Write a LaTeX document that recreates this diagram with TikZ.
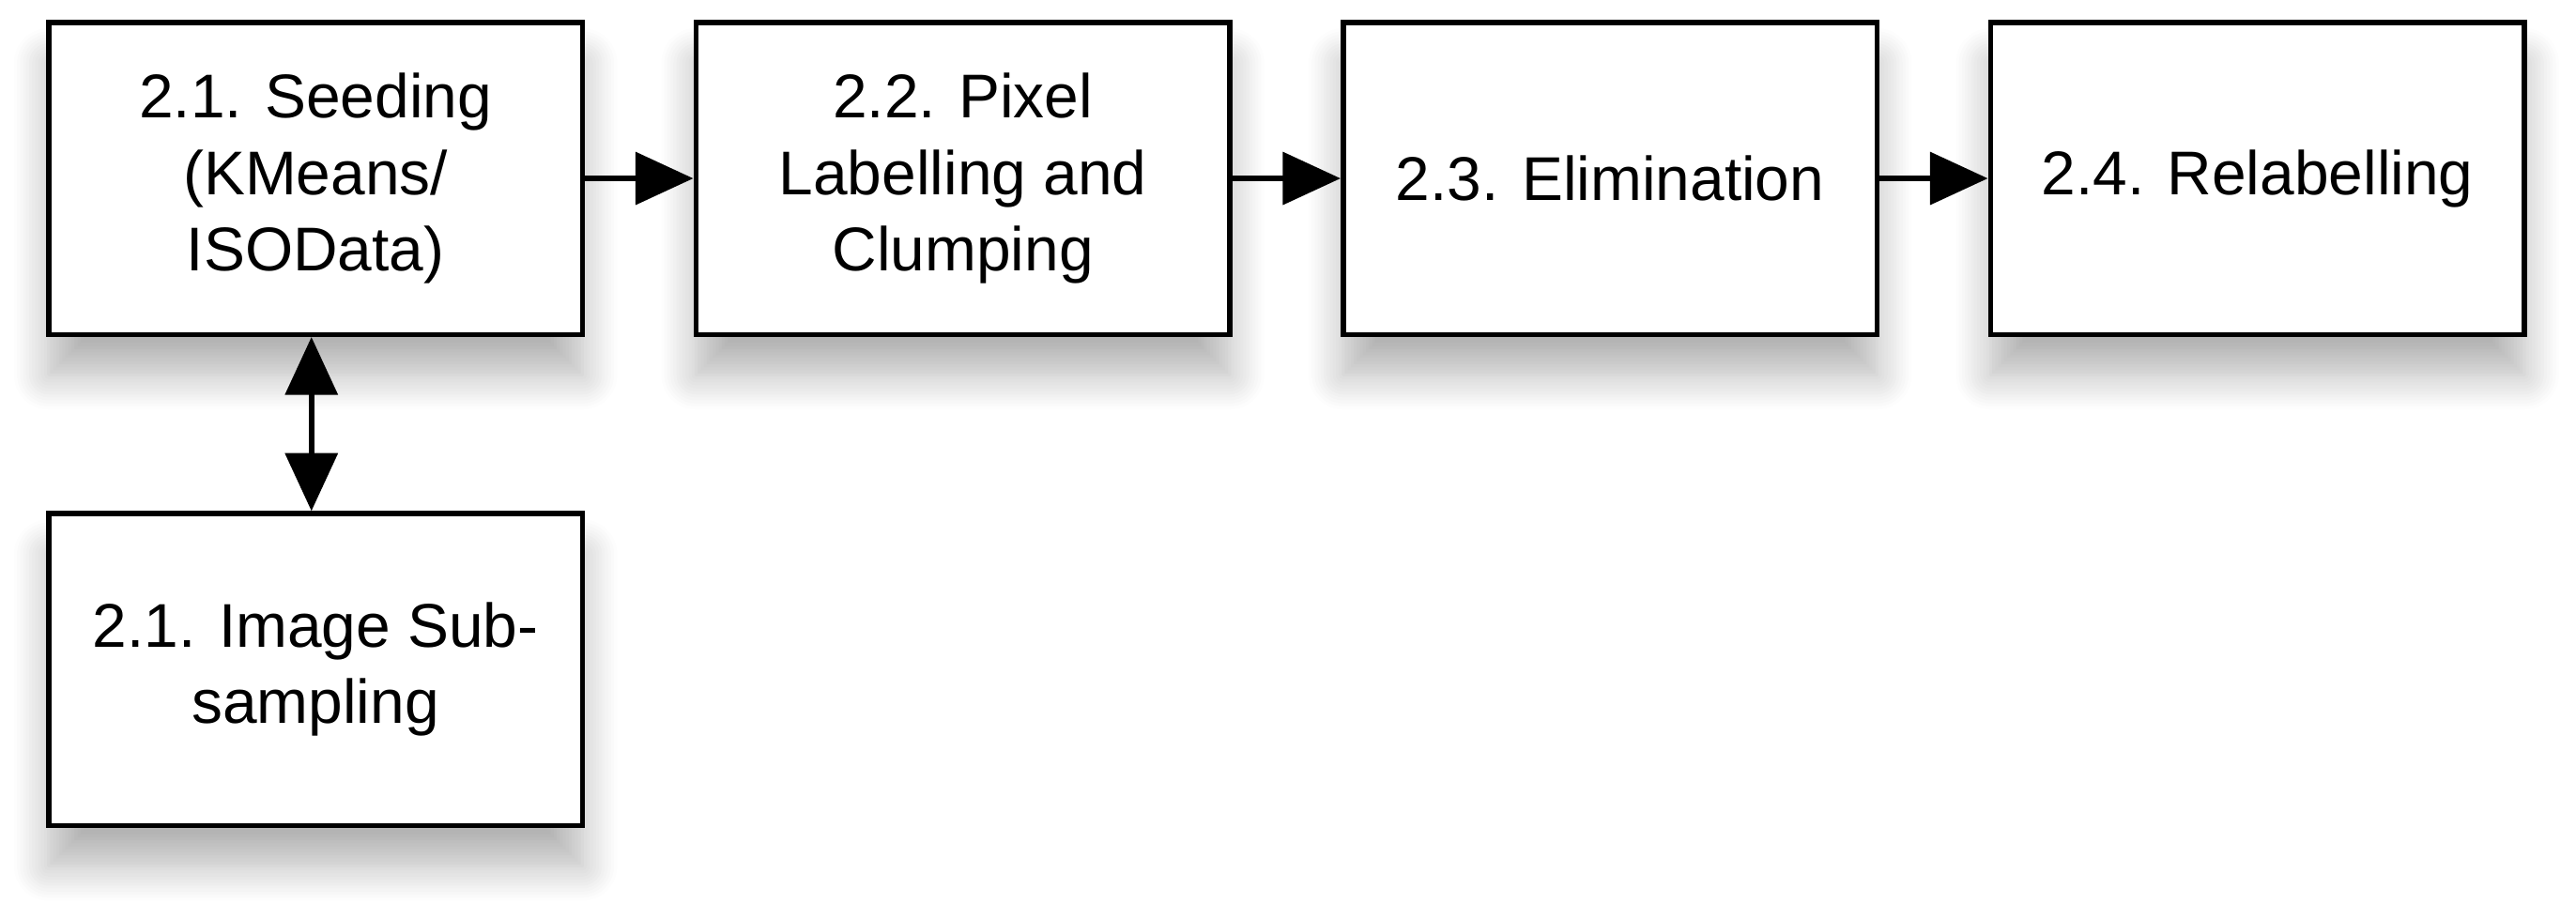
\documentclass[tikz,border=0pt]{standalone}
\usepackage{fontspec}
\setmainfont{Liberation Sans}
\usetikzlibrary{arrows.meta,shadows.blur}
\begin{document}
\begin{tikzpicture}[x=0.01cm,y=-0.01cm,
  box/.style={draw,line width=0.9pt,fill=white,minimum width=325*0.01cm,minimum height=190*0.01cm,inner sep=0pt,align=center,font=\fontsize{10.7}{13.2}\selectfont,anchor=north west,blur shadow={shadow xshift=0pt,shadow yshift=-7pt,shadow blur radius=6pt,shadow blur steps=12,shadow opacity=30}},
  arr/.style={line width=0.9pt,-{Triangle[length=10pt,width=9pt]}}]
\useasboundingbox (0,0) rectangle (1568,550);
\node[box] (a) at (28,12) {2.1. Seeding\\(KMeans/\\ISOData)};
\node[box] (b) at (422,12) {2.2. Pixel\\Labelling and\\Clumping};
\node[box] (c) at (816,12) {2.3. Elimination};
\node[box] (d) at (1210,12) {2.4. Relabelling};
\node[box] (e) at (28,311) {2.1. Image Sub-\\sampling};
\draw[arr] (a) -- (b);
\draw[arr] (b) -- (c);
\draw[arr] (c) -- (d);
\draw[line width=0.9pt,{Triangle[length=10pt,width=9pt]}-{Triangle[length=10pt,width=9pt]}] ([xshift=-0.025cm]a.south) -- ([xshift=-0.025cm]e.north);
\end{tikzpicture}
\end{document}
